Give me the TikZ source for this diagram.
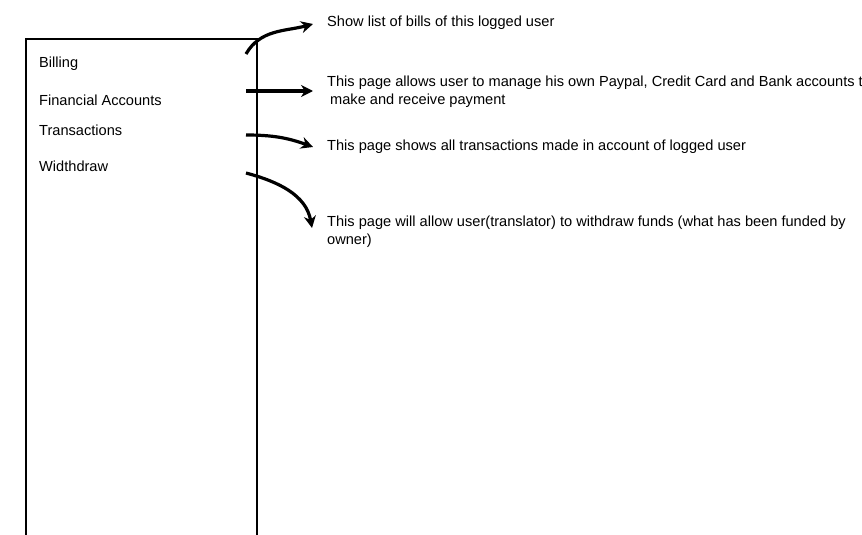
\documentclass[tikz,border=0pt]{standalone}
\usepackage{fontspec}
\setmainfont{Liberation Sans}
\usetikzlibrary{arrows.meta}

\begin{document}
\begin{tikzpicture}[
            x = 1pt, y = -1pt,
            > = {Stealth[length=12pt, width=12pt]},
            menuitem/.style = {anchor=base west, inner sep=0pt, font=\fontsize{14.6}{18}\selectfont},
            note/.style = {anchor=base west, inner sep=0pt, align=left, font=\fontsize{14.6}{17.5}\selectfont},
            link/.style = {draw, ->, line width=3.2pt}
        ]

            \useasboundingbox (0,0) rectangle (862,535);
            \clip (0,0) rectangle (862,535);

            % Menu panel
            \draw[line width=2pt] (26,560) -- (26,39) -- (257,39) -- (257,560);

            % Menu items
            \node[menuitem] (bill) at (39,67) {Billing};
            \node[menuitem] (fin) at (39,105) {Financial Accounts};
            \node[menuitem] (trans) at (39,135) {Transactions};
            \node[menuitem] (wd) at (39,171) {Widthdraw};

            % Arrow starts
            \coordinate (billS) at (246,54);
            \coordinate (finS) at (246,91);
            \coordinate (transS) at (246,135);
            \coordinate (wdS) at (246,173);

            % Descriptions (base = last line)
            \node[note] (billN) at (327,27) {Show list of bills of this logged user};
            \node[note] (finN) at (327,104) {This page allows user to manage his own Paypal, Credit Card and Bank accounts to\\\hspace{3pt}make and receive payment};
            \node[note] (transN) at (327,150) {This page shows all transactions made in account of logged user};
            \node[note] (wdN) at (327,244) {This page will allow user(translator) to withdraw funds (what has been funded by\\owner)};
            \coordinate (finT) at ([xshift=-14pt]finN.west);

            % Links
            \path (billS) edge[link, out=60, in=195] ([xshift=-14pt, yshift=3pt]billN.base west);
            \path (finS) edge[link] (finS -| finT);
            \path (transS) edge[link, out=0, in=160] ([xshift=-14pt, yshift=3pt]transN.base west);
            \path (wdS) edge[link, out=-15, in=100] ([xshift=-15pt, yshift=16pt]wdN.base west);

        \end{tikzpicture}
\end{document}
